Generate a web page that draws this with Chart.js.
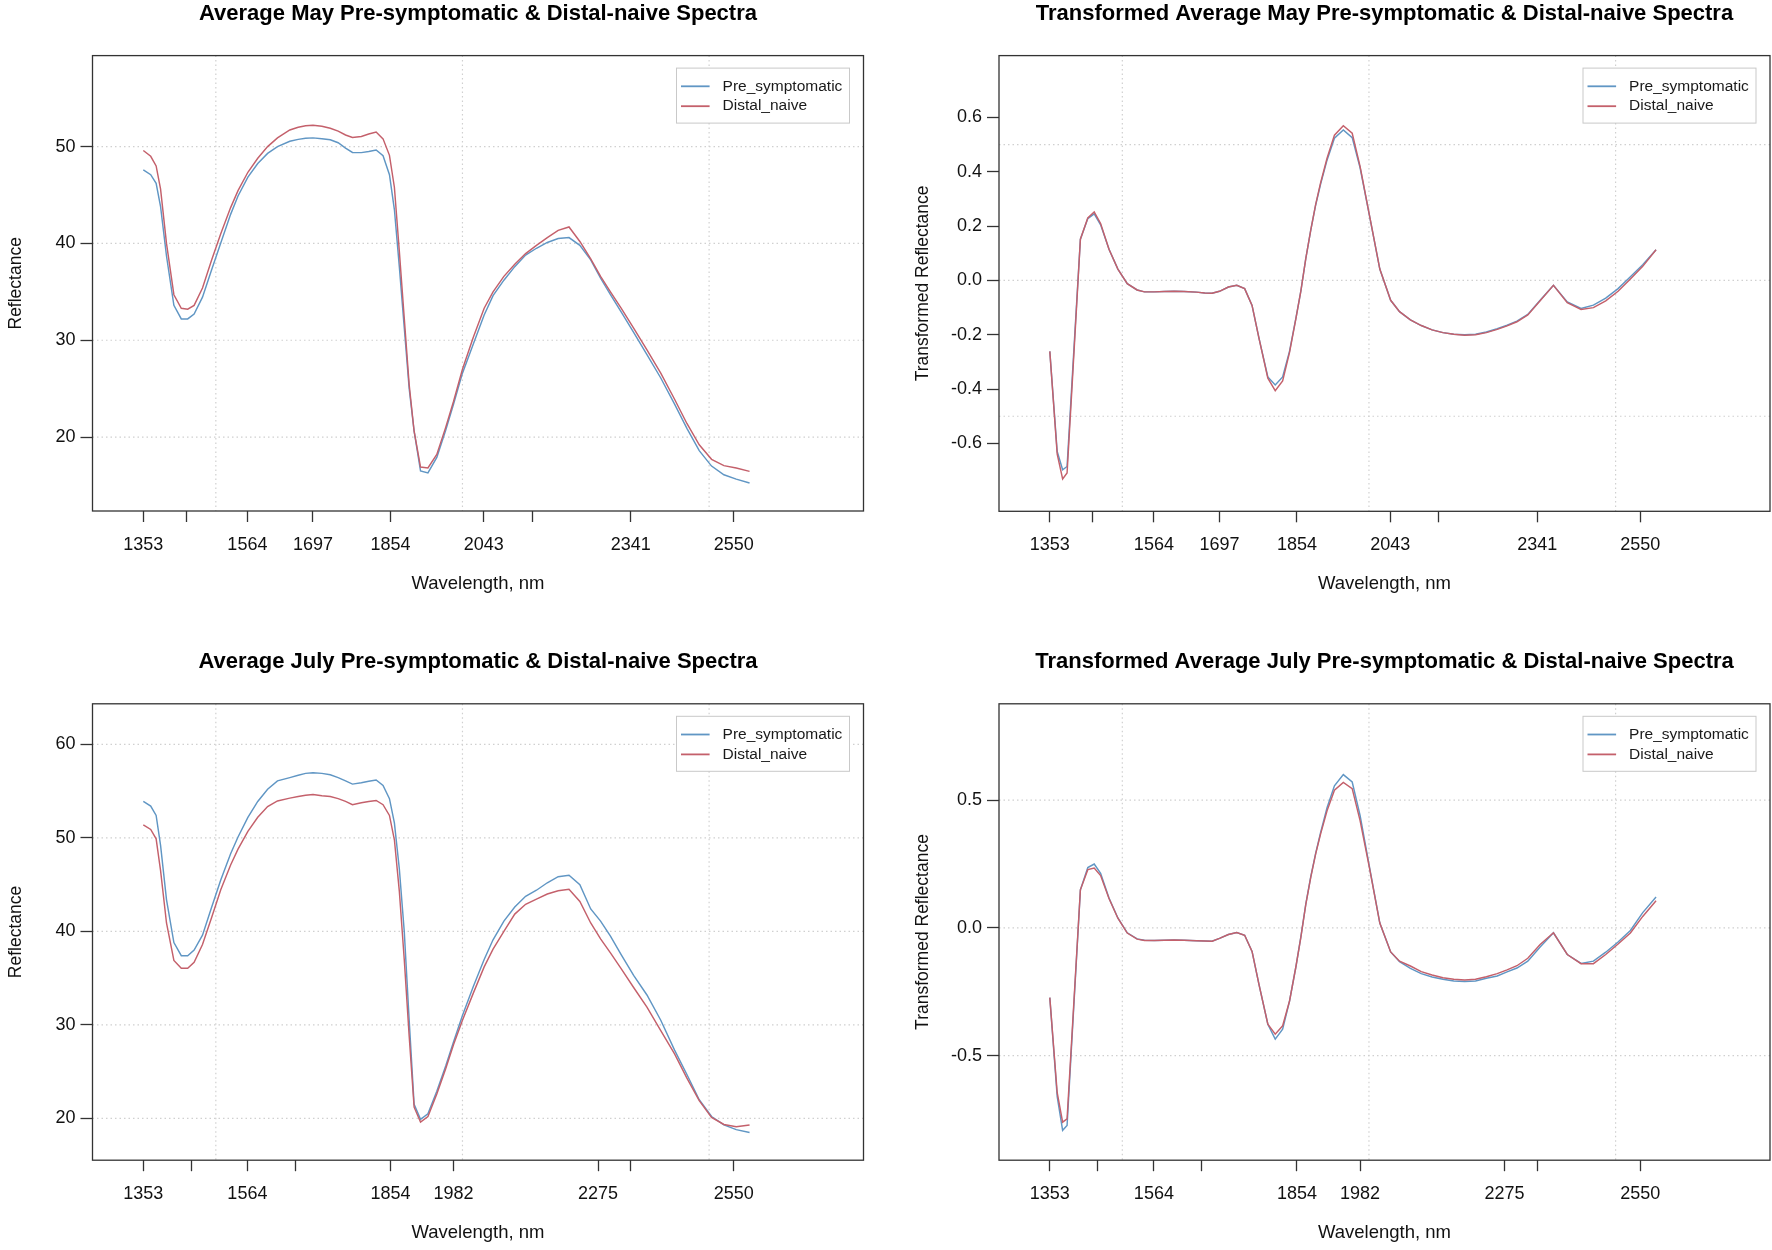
<!DOCTYPE html>
<html>
<head>
<meta charset="utf-8">
<title>Average Pre-symptomatic &amp; Distal-naive Spectra</title>
<script src="https://cdn.jsdelivr.net/npm/chart.js@4.4.1/dist/chart.umd.min.js"></script>
<style>
  html, body { margin: 0; padding: 0; background: #ffffff; }
  #wrap { position: relative; width: 1772px; height: 1250px; overflow: hidden; background: #ffffff; }
  #wrap canvas { position: absolute; }
</style>
</head>
<body>
<div id="wrap">
  <canvas id="c1" width="886" height="625" style="left:0px;top:0px;width:886px;height:625px;"></canvas>
  <canvas id="c2" width="886" height="625" style="left:886px;top:0px;width:886px;height:625px;"></canvas>
  <canvas id="c3" width="886" height="625" style="left:0px;top:625px;width:886px;height:625px;"></canvas>
  <canvas id="c4" width="886" height="625" style="left:886px;top:625px;width:886px;height:625px;"></canvas>
</div>
<script>
// ---------------- data ----------------
const wavelengths = [1353,1368,1379,1388,1400,1415,1430,1443,1456,1473,
  1491,1510,1530,1545,1565,1585,1605,1625,1650,1667,
  1682,1697,1715,1732,1748,1763,1777,1795,1810,1825,
  1839,1852,1862,1872,1882,1892,1902,1915,1930,1948,
  1966,1982,2000,2022,2044,2062,2084,2106,2128,2150,
  2172,2194,2216,2238,2260,2280,2300,2322,2347,2374,
  2402,2430,2455,2480,2505,2530,2555,2582];

const seriesNames = ['Pre_symptomatic', 'Distal_naive'];

const mayPre = [47.6,47.1,46.2,43.8,38.7,33.6,32.2,32.2,32.7,34.45,
  37.2,40.05,43.0,44.9,46.85,48.25,49.3,50.0,50.55,50.75,
  50.87,50.9,50.82,50.7,50.4,49.85,49.4,49.38,49.5,49.65,
  49.05,47.1,43.5,37.6,31.3,25.0,20.6,16.5,16.3,17.9,
  20.7,23.4,26.6,29.6,32.6,34.6,36.2,37.6,38.8,39.5,
  40.1,40.5,40.6,39.8,38.3,36.4,34.7,32.9,30.8,28.5,
  26.1,23.4,20.9,18.6,17.0,16.1,15.65,15.25];

const mayDistal = [49.6,49.0,48.0,45.6,40.0,34.7,33.3,33.2,33.6,35.4,
  38.2,41.0,43.7,45.45,47.35,48.8,50.0,50.9,51.72,52.0,
  52.15,52.2,52.1,51.9,51.6,51.2,50.95,51.05,51.3,51.5,
  50.8,49.1,45.8,39.2,32.3,25.4,20.6,16.9,16.8,18.2,
  21.0,23.7,27.0,30.3,33.3,35.0,36.6,37.85,38.95,39.8,
  40.6,41.35,41.7,40.2,38.4,36.6,35.0,33.3,31.25,29.0,
  26.6,23.9,21.4,19.2,17.7,17.05,16.8,16.45];

const mayPreT = [-0.261,-0.63,-0.697,-0.685,-0.31,0.152,0.228,0.245,0.205,0.115,
  0.042,-0.012,-0.035,-0.042,-0.042,-0.041,-0.040,-0.041,-0.043,-0.046,
  -0.047,-0.040,-0.024,-0.018,-0.030,-0.092,-0.212,-0.355,-0.385,-0.355,
  -0.26,-0.138,-0.038,0.081,0.185,0.278,0.355,0.443,0.524,0.554,
  0.526,0.415,0.248,0.042,-0.073,-0.115,-0.145,-0.166,-0.182,-0.192,
  -0.198,-0.200,-0.198,-0.190,-0.178,-0.165,-0.150,-0.125,-0.073,-0.018,
  -0.079,-0.103,-0.091,-0.065,-0.030,0.014,0.058,0.113];

const mayDistalT = [-0.261,-0.64,-0.731,-0.709,-0.33,0.152,0.23,0.252,0.21,0.115,
  0.042,-0.012,-0.035,-0.042,-0.042,-0.041,-0.040,-0.041,-0.043,-0.046,
  -0.047,-0.040,-0.024,-0.018,-0.030,-0.092,-0.212,-0.36,-0.406,-0.37,
  -0.265,-0.14,-0.038,0.081,0.185,0.28,0.36,0.45,0.535,0.570,
  0.542,0.42,0.25,0.042,-0.073,-0.115,-0.145,-0.166,-0.182,-0.192,
  -0.198,-0.202,-0.200,-0.192,-0.180,-0.167,-0.152,-0.127,-0.075,-0.018,
  -0.082,-0.107,-0.100,-0.075,-0.040,0.005,0.052,0.113];

const julyPre = [53.9,53.4,52.4,49.2,43.4,38.8,37.4,37.4,38.0,39.6,
  42.5,45.5,48.3,50.1,52.2,53.9,55.2,56.1,56.45,56.7,
  56.9,56.96,56.9,56.75,56.45,56.1,55.75,55.9,56.05,56.2,
  55.6,54.2,51.6,46.7,40.0,30.5,21.5,19.9,20.5,22.9,
  25.6,28.2,31.0,34.1,37.0,39.1,41.1,42.6,43.75,44.4,
  45.2,45.85,46.0,45.0,42.4,41.1,39.5,37.5,35.3,33.2,
  30.5,27.3,24.7,22.0,20.2,19.3,18.8,18.5];

const julyDistal = [51.4,50.9,49.9,46.5,40.9,36.9,36.05,36.05,36.7,38.6,
  41.4,44.45,47.1,48.8,50.7,52.2,53.35,53.95,54.25,54.42,
  54.55,54.64,54.5,54.42,54.2,53.9,53.55,53.75,53.9,54.0,
  53.55,52.4,49.8,44.3,37.0,28.8,21.2,19.6,20.2,22.6,
  25.3,27.9,30.5,33.4,36.2,38.1,40.0,41.85,42.9,43.45,
  44.0,44.35,44.5,43.2,40.9,39.2,37.7,36.0,34.0,31.9,
  29.4,26.9,24.3,21.9,20.1,19.35,19.1,19.3];

const julyPreT = [-0.273,-0.66,-0.792,-0.773,-0.363,0.149,0.236,0.250,0.214,0.117,
  0.039,-0.019,-0.043,-0.048,-0.049,-0.048,-0.047,-0.048,-0.050,-0.051,
  -0.052,-0.041,-0.026,-0.018,-0.029,-0.092,-0.221,-0.377,-0.435,-0.396,
  -0.286,-0.151,-0.034,0.094,0.201,0.293,0.374,0.470,0.556,0.600,
  0.571,0.440,0.250,0.019,-0.094,-0.132,-0.158,-0.179,-0.192,-0.201,
  -0.208,-0.210,-0.208,-0.197,-0.188,-0.172,-0.157,-0.130,-0.075,-0.019,
  -0.104,-0.139,-0.130,-0.095,-0.055,-0.010,0.060,0.121];

const julyDistalT = [-0.273,-0.645,-0.760,-0.747,-0.35,0.149,0.228,0.234,0.205,0.115,
  0.038,-0.020,-0.044,-0.049,-0.049,-0.048,-0.047,-0.048,-0.050,-0.051,
  -0.052,-0.041,-0.026,-0.018,-0.029,-0.092,-0.221,-0.377,-0.416,-0.383,
  -0.286,-0.151,-0.036,0.092,0.198,0.290,0.368,0.458,0.539,0.569,
  0.545,0.420,0.245,0.019,-0.094,-0.130,-0.149,-0.171,-0.184,-0.195,
  -0.201,-0.204,-0.201,-0.191,-0.179,-0.164,-0.148,-0.119,-0.065,-0.019,
  -0.104,-0.140,-0.140,-0.104,-0.063,-0.020,0.045,0.106];

// axis ticks and labels
const mayXTicks = [1353, 1440, 1564, 1697, 1854, 2043, 2141, 2341, 2550];
const mayXLabels = ['1353', '', '1564', '1697', '1854', '2043', '', '2341', '2550'];
const julyXTicks = [1353, 1450, 1564, 1661, 1854, 1982, 2275, 2341, 2550];
const julyXLabels = ['1353', '', '1564', '', '1854', '1982', '2275', '', '2550'];

const mayYTicks = [20, 30, 40, 50];
const mayYLabels = ['20', '30', '40', '50'];
const mayTYTicks = [-0.6, -0.4, -0.2, 0, 0.2, 0.4, 0.6];
const mayTYLabels = ['-0.6', '-0.4', '-0.2', '0.0', '0.2', '0.4', '0.6'];
const julyYTicks = [20, 30, 40, 50, 60];
const julyYLabels = ['20', '30', '40', '50', '60'];
const julyTYTicks = [-0.5, 0, 0.5];
const julyTYLabels = ['-0.5', '0.0', '0.5'];

const gridX = [1500, 2000, 2500];
const gridYRaw1 = [20, 30, 40, 50];
const gridYRaw2 = [20, 30, 40, 50, 60];
const gridYT = [-0.5, 0, 0.5];

// ---------------- styling ----------------
const FONT = "'Liberation Sans', Arial, Helvetica, sans-serif";
const BLUE = '#6096c4';
const RED = '#c4606b';
const X_MIN = 1250, X_MAX = 2813;

const framePlugin = {
  id: 'rframe',
  beforeDatasetsDraw(chart, args, opts) {
    const ctx = chart.ctx, a = chart.chartArea;
    const x = chart.scales.x, y = chart.scales.y;
    ctx.save();
    ctx.beginPath();
    ctx.rect(a.left, a.top, a.right - a.left, a.bottom - a.top);
    ctx.clip();
    ctx.strokeStyle = '#d0d0d0';
    ctx.lineWidth = 1.2;
    ctx.setLineDash([1.5, 3]);
    (opts.xs || []).forEach(v => {
      const px = x.getPixelForValue(v);
      ctx.beginPath(); ctx.moveTo(px, a.top); ctx.lineTo(px, a.bottom); ctx.stroke();
    });
    (opts.ys || []).forEach(v => {
      const py = y.getPixelForValue(v);
      ctx.beginPath(); ctx.moveTo(a.left, py); ctx.lineTo(a.right, py); ctx.stroke();
    });
    ctx.restore();
  },
  afterDatasetsDraw(chart) {
    const ctx = chart.ctx, a = chart.chartArea;
    ctx.save();
    // plot box
    ctx.strokeStyle = '#333333';
    ctx.lineWidth = 1.3;
    ctx.setLineDash([]);
    ctx.strokeRect(a.left, a.top, a.right - a.left, a.bottom - a.top);
    // legend
    const bw = 173, bh = 55;
    const bx = a.right - 14.5 - bw, by = a.top + 12;
    ctx.fillStyle = '#ffffff';
    ctx.fillRect(bx, by, bw, bh);
    ctx.strokeStyle = '#c9c9c9';
    ctx.lineWidth = 1;
    ctx.strokeRect(bx + 0.5, by + 0.5, bw, bh);
    const rows = [18.7, 38.6];
    chart.data.datasets.forEach((ds, i) => {
      const ry = by + rows[i];
      ctx.strokeStyle = ds.borderColor;
      ctx.lineWidth = 1.8;
      ctx.beginPath(); ctx.moveTo(bx + 5, ry); ctx.lineTo(bx + 33.6, ry); ctx.stroke();
      ctx.fillStyle = '#1a1a1a';
      ctx.font = '15.5px ' + FONT;
      ctx.textBaseline = 'middle';
      ctx.textAlign = 'left';
      ctx.fillText(ds.label, bx + 46.6, ry);
    });
    ctx.restore();
  }
};

function panel(id, o) {
  const sets = [
    { label: seriesNames[0], values: o.pre, color: BLUE, order: 2 },
    { label: seriesNames[1], values: o.distal, color: RED, order: 1 }
  ];
  return new Chart(document.getElementById(id), {
    type: 'line',
    data: {
      datasets: sets.map(s => ({
        label: s.label,
        data: wavelengths.map((w, i) => ({ x: w, y: s.values[i] })),
        borderColor: s.color,
        backgroundColor: s.color,
        borderWidth: 1.45,
        pointRadius: 0,
        pointHoverRadius: 0,
        tension: 0,
        fill: false,
        order: s.order
      }))
    },
    options: {
      responsive: false,
      animation: false,
      events: [],
      layout: { padding: { left: 0, top: 0, right: o.padRight, bottom: 0 } },
      plugins: {
        legend: { display: false },
        tooltip: { enabled: false },
        title: {
          display: true, text: o.title, fullSize: false, color: '#000000',
          font: { family: FONT, size: 22, weight: 'bold' },
          padding: { top: o.titleTop, bottom: o.titleBottom }
        },
        rframe: { xs: gridX, ys: o.gridY }
      },
      scales: {
        x: {
          type: 'linear', min: X_MIN, max: X_MAX,
          afterBuildTicks: ax => { ax.ticks = o.xTicks.map(v => ({ value: v })); },
          afterFit: ax => { ax.height = o.xHeight; },
          ticks: {
            autoSkip: false, maxRotation: 0, minRotation: 0, padding: 12.3,
            color: '#111111', font: { family: FONT, size: 18 },
            callback: (v, i) => o.xLabels[i]
          },
          grid: { display: true, drawOnChartArea: false, drawTicks: true, tickLength: 11, tickColor: '#333333', tickWidth: 1.3 },
          border: { display: false },
          title: { display: true, text: 'Wavelength, nm', color: '#111111', font: { family: FONT, size: 18.5 }, padding: { top: 0, bottom: o.xTitleBottom } }
        },
        y: {
          type: 'linear', min: o.yMin, max: o.yMax,
          afterBuildTicks: ax => { ax.ticks = o.yTicks.map(v => ({ value: v })); },
          afterFit: ax => { ax.width = o.yWidth; },
          ticks: {
            autoSkip: false, padding: 5,
            color: '#111111', font: { family: FONT, size: 18 },
            callback: (v, i) => o.yLabels[i]
          },
          grid: { display: true, drawOnChartArea: false, drawTicks: true, tickLength: 12, tickColor: '#333333', tickWidth: 1.3 },
          border: { display: false },
          title: { display: true, text: o.yTitle, color: '#111111', font: { family: FONT, size: 17.5 }, padding: { top: o.yTitlePad, bottom: 0 } }
        }
      }
    },
    plugins: [framePlugin]
  });
}

panel('c1', {
  title: 'Average May Pre-symptomatic & Distal-naive Spectra',
  pre: mayPre, distal: mayDistal,
  xTicks: mayXTicks, xLabels: mayXLabels,
  yTicks: mayYTicks, yLabels: mayYLabels, gridY: gridYRaw1,
  yMin: 12.36, yMax: 59.4, yTitle: 'Reflectance',
  padRight: 22.5, titleTop: 0.8, titleBottom: 28.4,
  yWidth: 92.5, xHeight: 114, yTitlePad: 5.5, xTitleBottom: 29.9
});
panel('c2', {
  title: 'Transformed Average May Pre-symptomatic & Distal-naive Spectra',
  pre: mayPreT, distal: mayDistalT,
  xTicks: mayXTicks, xLabels: mayXLabels,
  yTicks: mayTYTicks, yLabels: mayTYLabels, gridY: gridYT,
  yMin: -0.85, yMax: 0.828, yTitle: 'Transformed Reflectance',
  padRight: 2, titleTop: 0.8, titleBottom: 28.4,
  yWidth: 113, xHeight: 113.7, yTitlePad: 26.5, xTitleBottom: 29.9
});
panel('c3', {
  title: 'Average July Pre-symptomatic & Distal-naive Spectra',
  pre: julyPre, distal: julyDistal,
  xTicks: julyXTicks, xLabels: julyXLabels,
  yTicks: julyYTicks, yLabels: julyYLabels, gridY: gridYRaw2,
  yMin: 15.53, yMax: 64.34, yTitle: 'Reflectance',
  padRight: 22.5, titleTop: 23.4, titleBottom: 29.0,
  yWidth: 92.5, xHeight: 89.8, yTitlePad: 5.5, xTitleBottom: 6.3
});
panel('c4', {
  title: 'Transformed Average July Pre-symptomatic & Distal-naive Spectra',
  pre: julyPreT, distal: julyDistalT,
  xTicks: julyXTicks, xLabels: julyXLabels,
  yTicks: julyTYTicks, yLabels: julyTYLabels, gridY: gridYT,
  yMin: -0.909, yMax: 0.877, yTitle: 'Transformed Reflectance',
  padRight: 2, titleTop: 23.4, titleBottom: 29.0,
  yWidth: 113, xHeight: 89.8, yTitlePad: 26.5, xTitleBottom: 6.3
});
</script>
</body>
</html>
